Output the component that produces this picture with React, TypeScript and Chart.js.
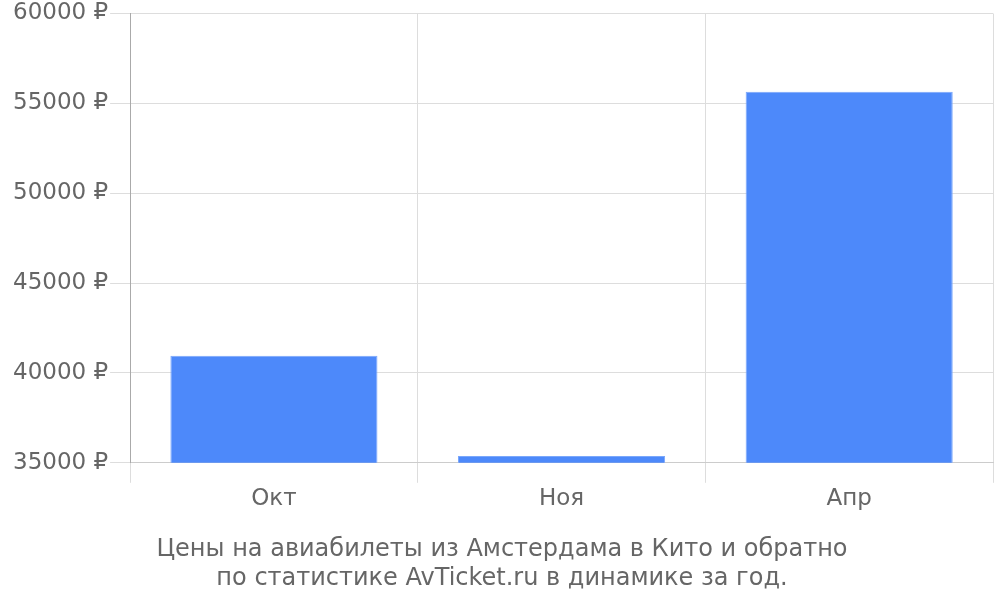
import { useEffect, useRef } from 'react'
import { Chart, registerables } from 'chart.js'

Chart.register(...registerables)

const months = ['Окт', 'Ноя', 'Апр']
const prices = [40950, 35380, 55650]
const titleLines = [
  'Цены на авиабилеты из Амстердама в Кито и обратно',
  'по статистике AvTicket.ru в динамике за год.',
]

export default function App() {
  const canvasRef = useRef<HTMLCanvasElement>(null)

  useEffect(() => {
    if (!canvasRef.current) return
    const chart = new Chart(canvasRef.current, {
      type: 'bar',
      data: {
        labels: months,
        datasets: [
          {
            label: 'Цена',
            data: prices,
            backgroundColor: '#4d89fa',
            borderColor: '#7aa7fb',
            borderWidth: 1,
            categoryPercentage: 0.8,
            barPercentage: 0.9,
          },
        ],
      },
      options: {
        responsive: false,
        animation: false,
        layout: { padding: { left: 11, right: 7, top: 1, bottom: 0 } },
        plugins: {
          legend: { display: false },
          tooltip: { enabled: false },
          title: {
            display: true,
            position: 'bottom',
            text: titleLines,
            color: '#666',
            font: { family: 'DejaVu Sans', size: 24, weight: 'normal', lineHeight: 1.2 },
            padding: { top: 21, bottom: 7 },
          },
        },
        scales: {
          x: {
            grid: { color: '#ddd', tickLength: 20 },
            border: { color: '#ccc' },
            ticks: { padding: 2, color: '#666', font: { family: 'DejaVu Sans', size: 23 } },
          },
          y: {
            min: 35000,
            max: 60000,
            grid: { color: '#ddd', tickLength: 20 },
            border: { color: '#aaa' },
            ticks: {
              stepSize: 5000,
              padding: 2,
              color: '#666',
              font: { family: 'DejaVu Sans', size: 23, lineHeight: 1.0 },
              callback: (v) => `${v} ₽`,
            },
          },
        },
      },
    })
    return () => chart.destroy()
  }, [])

  return (
    <div style={{ position: 'absolute', left: 0, top: 0 }}>
      <canvas ref={canvasRef} width={1000} height={600} />
    </div>
  )
}
